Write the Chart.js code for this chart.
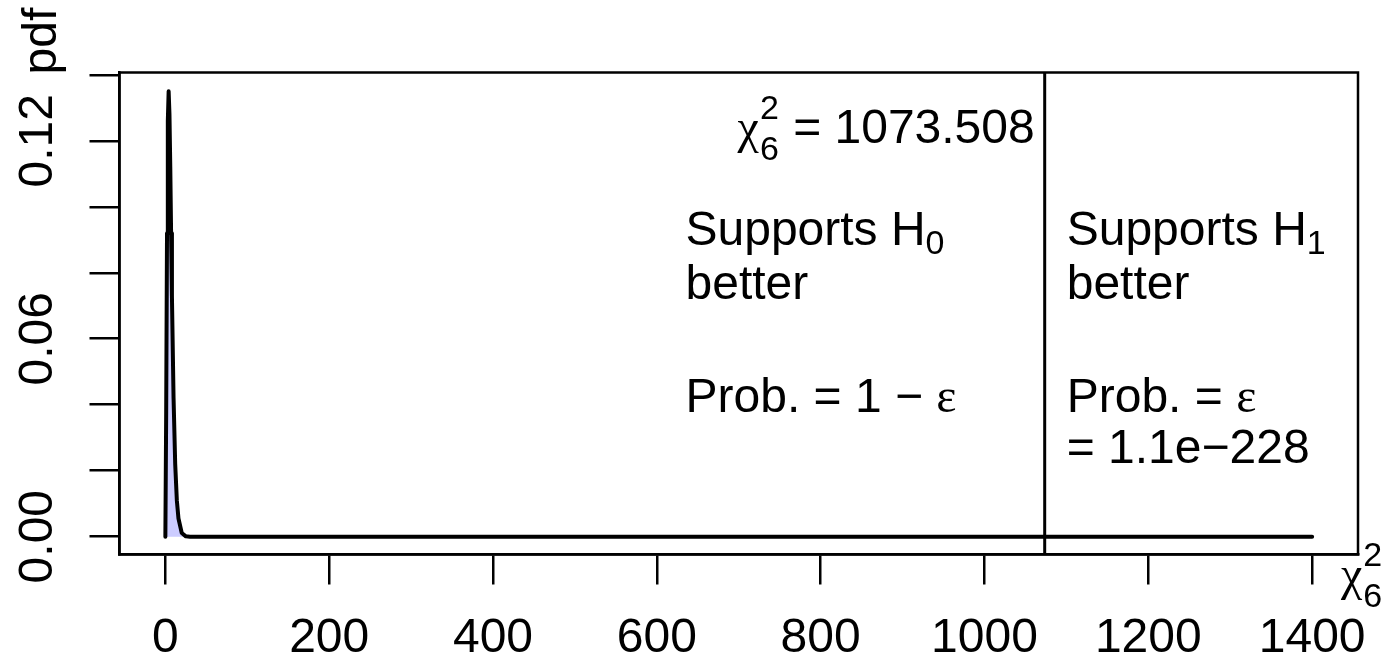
<!DOCTYPE html>
<html>
<head>
<meta charset="utf-8">
<script src="https://cdn.jsdelivr.net/npm/chart.js@4.4.1/dist/chart.umd.min.js"></script>
<style>
  html, body { margin: 0; padding: 0; background: #fff; }
</style>
</head>
<body>
<canvas id="myChart" width="1386" height="665"></canvas>
<script>
// chi-square (6 df) density
var xValues   = [0, 1, 2, 3, 4, 5, 6, 7, 8, 10, 12, 14, 16, 20, 25, 30, 1400];
var pdfValues = [0, 0.038, 0.092, 0.126, 0.135, 0.128, 0.112, 0.092, 0.073, 0.042, 0.022, 0.011, 0.0055, 0.0011, 0.0001, 0, 0];

var xTicks = [0, 200, 400, 600, 800, 1000, 1200, 1400];
var yTicks = [0, 0.02, 0.04, 0.06, 0.08, 0.10, 0.12, 0.14];
var yTickLabels = ['0.00', '', '', '0.06', '', '', '0.12', ''];

var chiStat = 1073.508;
var chiStatLabel = '1073.508';
var dfLabel = '6';
var pValueLabel = '1.1e\u2212228';

var SANS = '"Liberation Sans", Arial, Helvetica, sans-serif';
var SERIF = '"Liberation Serif", "Times New Roman", serif';
var FS = 48;   // main text size
var FSS = 34;  // sub/superscript size

var xMin = -56, xMax = 1456;
var yMin = -0.0054, yMax = 0.1407;

// draws a run of text pieces; pieces can be plain text or a stacked sup/sub pair
function drawRich(ctx, x, y, parts, align) {
  var widths = parts.map(function (p) {
    if (p.sup !== undefined) {
      ctx.font = FSS + 'px ' + SANS;
      return Math.max(ctx.measureText(p.sup).width, ctx.measureText(p.sub).width) + 2;
    }
    ctx.font = (p.size || FS) + 'px ' + (p.family || SANS);
    return ctx.measureText(p.t).width;
  });
  var total = widths.reduce(function (a, b) { return a + b; }, 0);
  var cx = align === 'right' ? x - total : x;
  ctx.textAlign = 'left';
  ctx.textBaseline = 'alphabetic';
  parts.forEach(function (p, i) {
    if (p.sup !== undefined) {
      ctx.font = FSS + 'px ' + SANS;
      ctx.fillText(p.sup, cx + 1, y - 24);
      ctx.fillText(p.sub, cx + 1, y + 17);
    } else {
      ctx.font = (p.size || FS) + 'px ' + (p.family || SANS);
      ctx.fillText(p.t, cx, y + (p.dy || 0));
    }
    cx += widths[i];
  });
}

var textPlugin = {
  id: 'rtext',
  afterDraw: function (chart) {
    var ctx = chart.ctx;
    var xs = chart.scales.x, ys = chart.scales.y;
    var a = chart.chartArea;
    ctx.save();
    ctx.fillStyle = '#000';

    // box
    ctx.strokeStyle = '#000';
    ctx.lineWidth = 2.5;
    ctx.strokeRect(a.left, a.top, a.right - a.left, a.bottom - a.top);

    // y tick labels, parallel to the axis
    ctx.font = FS + 'px ' + SANS;
    ctx.textAlign = 'center';
    ctx.textBaseline = 'alphabetic';
    yTicks.forEach(function (v, i) {
      if (!yTickLabels[i]) return;
      ctx.save();
      ctx.translate(52, ys.getPixelForValue(v));
      ctx.rotate(-Math.PI / 2);
      ctx.fillText(yTickLabels[i], 0, 0);
      ctx.restore();
    });

    // y axis title
    ctx.save();
    ctx.translate(56, a.top + 2);
    ctx.rotate(-Math.PI / 2);
    ctx.textAlign = 'left';
    ctx.fillText('pdf', 0, 0);
    ctx.restore();

    // x axis title, bottom right
    drawRich(ctx, a.right - 17, a.bottom + 35, [
      { t: '\u03C7', family: SERIF },
      { sup: '2', sub: dfLabel }
    ], 'left');

    // statistic label next to the line
    var lx = xs.getPixelForValue(chiStat);
    drawRich(ctx, lx - 10, ys.getPixelForValue(0.1193), [
      { t: '\u03C7', family: SERIF },
      { sup: '2', sub: dfLabel },
      { t: ' = ' + chiStatLabel }
    ], 'right');

    // left side text
    var left = xs.getPixelForValue(635);
    drawRich(ctx, left, ys.getPixelForValue(0.0885), [{ t: 'Supports H' }, { t: '0', size: FSS, dy: 9 }], 'left');
    drawRich(ctx, left, ys.getPixelForValue(0.0719), [{ t: 'better' }], 'left');
    drawRich(ctx, left, ys.getPixelForValue(0.0377), [{ t: 'Prob. = 1 \u2212 ' }, { t: '\u03B5', family: SERIF }], 'left');

    // right side text
    var right = lx + 22;
    drawRich(ctx, right, ys.getPixelForValue(0.0885), [{ t: 'Supports H' }, { t: '1', size: FSS, dy: 9 }], 'left');
    drawRich(ctx, right, ys.getPixelForValue(0.0719), [{ t: 'better' }], 'left');
    drawRich(ctx, right, ys.getPixelForValue(0.0377), [{ t: 'Prob. = ' }, { t: '\u03B5', family: SERIF }], 'left');
    drawRich(ctx, right, ys.getPixelForValue(0.0223), [{ t: '= ' + pValueLabel }], 'left');

    ctx.restore();
  }
};

var ctx = document.getElementById('myChart');
var myChart = new Chart(ctx, {
  type: 'line',
  data: {
    datasets: [{
      data: xValues.map(function (x, i) { return { x: x, y: pdfValues[i] }; }),
      borderColor: '#000',
      borderWidth: 4,
      borderJoinStyle: 'round',
      borderCapStyle: 'round',
      backgroundColor: '#ccccff',
      fill: 'origin',
      pointRadius: 0,
      tension: 0
    }, {
      data: [{ x: chiStat, y: yMin }, { x: chiStat, y: yMax }],
      borderColor: '#000',
      borderWidth: 3,
      pointRadius: 0,
      fill: false
    }]
  },
  options: {
    responsive: false,
    animation: false,
    devicePixelRatio: 1,
    layout: { padding: { left: 89.5, top: 72.5, right: 28, bottom: -28.5 } },
    plugins: { legend: { display: false }, tooltip: { enabled: false } },
    scales: {
      x: {
        type: 'linear',
        min: xMin,
        max: xMax,
        afterBuildTicks: function (s) { s.ticks = xTicks.map(function (v) { return { value: v }; }); },
        ticks: {
          color: '#000',
          font: { family: SANS, size: FS, lineHeight: 109 / 48 },
          padding: 0,
          maxRotation: 0,
          autoSkip: false,
          callback: function (v) { return String(v); }
        },
        grid: { drawOnChartArea: false, drawTicks: true, tickLength: 30, color: '#000', lineWidth: 2.5 },
        border: { display: true, color: '#000', width: 2.5 }
      },
      y: {
        type: 'linear',
        min: yMin,
        max: yMax,
        afterBuildTicks: function (s) { s.ticks = yTicks.map(function (v) { return { value: v }; }); },
        ticks: { display: false },
        grid: { drawOnChartArea: false, drawTicks: true, tickLength: 30, color: '#000', lineWidth: 2.5 },
        border: { display: true, color: '#000', width: 2.5 }
      }
    }
  },
  plugins: [textPlugin]
});
</script>
</body>
</html>
